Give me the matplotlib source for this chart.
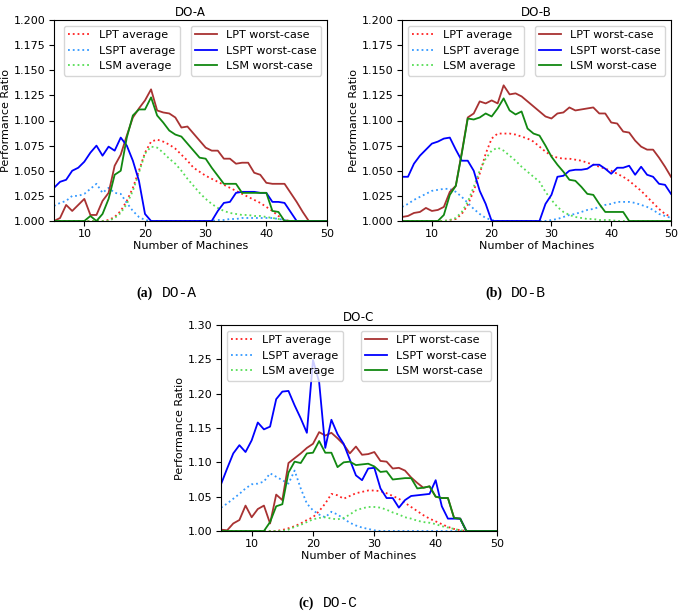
import matplotlib
matplotlib.use("Agg")
import matplotlib.pyplot as plt
import numpy as np

plt.rcParams['font.family'] = ['DejaVu Sans']
plt.rcParams['font.size'] = 8

machines = list(range(5, 51))

# ---------------- DO-A ----------------
lpt_avg_A = [1.000]*9 + [1.001, 1.004, 1.010, 1.020, 1.033, 1.050, 1.068, 1.079, 1.081, 1.079, 1.076, 1.072,
                          1.066, 1.060, 1.053, 1.049,
                          1.045, 1.042, 1.039, 1.036, 1.033, 1.030, 1.027, 1.024, 1.021, 1.018, 1.014, 1.010,
                          1.005, 1.001] + [1.000]*7
lspt_avg_A = [1.015, 1.018, 1.020, 1.025, 1.025, 1.027, 1.032, 1.037, 1.028, 1.033, 1.028, 1.027, 1.018, 1.010,
              1.004, 1.001] + [1.000]*11 + [1.001, 1.001, 1.002, 1.002, 1.003, 1.003, 1.003, 1.003, 1.003, 1.003,
                                            1.002, 1.001] + [1.000]*7
lsm_avg_A = [1.000]*10 + [1.003, 1.008, 1.017, 1.030, 1.048, 1.067, 1.074, 1.073, 1.068, 1.062, 1.057, 1.050,
                          1.042, 1.035, 1.028, 1.022, 1.017, 1.013, 1.010, 1.008, 1.007, 1.006, 1.006, 1.005,
                          1.005, 1.004, 1.003, 1.002, 1.001] + [1.000]*7
lpt_worst_A = [1.000, 1.003, 1.016, 1.010, 1.016, 1.022, 1.006, 1.006, 1.020, 1.028, 1.055, 1.066, 1.085, 1.103,
               1.112, 1.120, 1.131, 1.110, 1.108, 1.107, 1.103, 1.093, 1.094, 1.087, 1.080, 1.073, 1.070, 1.070,
               1.062, 1.062, 1.057, 1.058, 1.058, 1.048, 1.046, 1.038, 1.037, 1.037, 1.037, 1.028, 1.019,
               1.009] + [1.000]*4
lspt_worst_A = [1.033, 1.039, 1.041, 1.050, 1.053, 1.059, 1.068, 1.075, 1.065, 1.074, 1.070, 1.083, 1.075, 1.060,
                1.040, 1.007] + [1.000]*11 + [1.010, 1.018, 1.019, 1.028, 1.029, 1.029, 1.029, 1.028, 1.028,
                                              1.019, 1.019, 1.018, 1.009] + [1.000]*6
lsm_worst_A = [1.000]*6 + [1.005, 1.000, 1.007, 1.022, 1.046, 1.050, 1.083, 1.105, 1.111, 1.111, 1.123, 1.105,
                           1.098, 1.090, 1.086, 1.084, 1.077, 1.070, 1.063, 1.062, 1.053, 1.045, 1.037, 1.037,
                           1.037, 1.028, 1.028, 1.028, 1.028, 1.028, 1.010, 1.009] + [1.000]*8

# ---------------- DO-B ----------------
lpt_avg_B = [1.000]*8 + [1.001, 1.002, 1.007, 1.016, 1.030, 1.047, 1.067, 1.082, 1.087, 1.087, 1.087, 1.086,
                         1.084, 1.082, 1.079, 1.074, 1.069, 1.065, 1.063, 1.062, 1.062, 1.061, 1.060, 1.058,
                         1.056, 1.054, 1.052, 1.050, 1.047, 1.044, 1.040, 1.035, 1.030, 1.024, 1.018, 1.012,
                         1.007, 1.004]
lspt_avg_B = [1.014, 1.017, 1.021, 1.024, 1.027, 1.030, 1.031, 1.032, 1.032, 1.029, 1.024, 1.018, 1.012, 1.007,
              1.003, 1.001] + [1.000]*9 + [1.001, 1.002, 1.004, 1.006, 1.007, 1.009, 1.011, 1.012, 1.014, 1.016,
                                           1.017, 1.019, 1.019, 1.019, 1.018, 1.016, 1.014, 1.011, 1.007, 1.005,
                                           1.003]
lsm_avg_B = [1.000]*8 + [1.001, 1.003, 1.009, 1.019, 1.034, 1.050, 1.062, 1.070, 1.073, 1.070, 1.065, 1.060,
                         1.054, 1.049, 1.044, 1.039, 1.029, 1.021, 1.014, 1.009, 1.006, 1.004, 1.003, 1.002,
                         1.002, 1.001, 1.001, 1.001] + [1.000]*10
lpt_worst_B = [1.004, 1.005, 1.008, 1.009, 1.013, 1.010, 1.011, 1.014, 1.029, 1.035, 1.068, 1.103, 1.107, 1.119,
               1.117, 1.120, 1.117, 1.135, 1.126, 1.127, 1.124, 1.119, 1.114, 1.109, 1.104, 1.102, 1.107, 1.108,
               1.113, 1.110, 1.111, 1.112, 1.113, 1.107, 1.107, 1.098, 1.097, 1.089, 1.088, 1.080, 1.074, 1.071,
               1.071, 1.063, 1.054, 1.044]
lspt_worst_B = [1.044, 1.044, 1.057, 1.065, 1.071, 1.077, 1.079, 1.082, 1.083, 1.071, 1.060, 1.060, 1.050, 1.030,
                1.017, 1.000] + [1.000]*8 + [1.017, 1.026, 1.044, 1.045, 1.050, 1.051, 1.051, 1.052, 1.056, 1.056,
                                             1.052, 1.047, 1.053, 1.053, 1.055, 1.046, 1.054, 1.046, 1.044, 1.037,
                                             1.036, 1.027]
lsm_worst_B = [1.000]*7 + [1.006, 1.026, 1.035, 1.067, 1.102, 1.101, 1.103, 1.107, 1.104, 1.112, 1.122, 1.110,
                           1.106, 1.109, 1.092, 1.087, 1.085, 1.075, 1.064, 1.056, 1.049, 1.041, 1.040, 1.034,
                           1.027, 1.026, 1.017, 1.009, 1.009, 1.009, 1.009] + [1.000]*8

# ---------------- DO-C ----------------
lpt_avg_C = [1.000]*10 + [1.0015, 1.004, 1.007, 1.011, 1.016, 1.020, 1.029, 1.040, 1.054, 1.052, 1.047, 1.051,
                          1.055, 1.057, 1.059, 1.059, 1.058, 1.055, 1.051, 1.047, 1.041, 1.035, 1.029, 1.023,
                          1.018, 1.014, 1.010, 1.006, 1.003, 1.001] + [1.000]*6
lspt_avg_C = [1.034, 1.040, 1.047, 1.054, 1.062, 1.068, 1.069, 1.072, 1.084, 1.079, 1.074, 1.069, 1.088, 1.062,
              1.040, 1.030, 1.024, 1.020, 1.028, 1.024, 1.018, 1.012, 1.008, 1.005, 1.003, 1.001] + [1.000]*20
lsm_avg_C = [1.000]*11 + [1.002, 1.006, 1.009, 1.013, 1.017, 1.019, 1.020, 1.018, 1.017, 1.019, 1.024, 1.030,
                          1.033, 1.035, 1.035, 1.034, 1.031, 1.027, 1.024, 1.020, 1.018, 1.015, 1.013, 1.012,
                          1.010, 1.007, 1.005, 1.003, 1.001] + [1.000]*6
lpt_worst_C = [1.002, 1.001, 1.011, 1.016, 1.037, 1.020, 1.032, 1.037, 1.011, 1.053, 1.045, 1.099, 1.106, 1.113,
               1.121, 1.127, 1.144, 1.139, 1.143, 1.135, 1.126, 1.113, 1.123, 1.111, 1.112, 1.115, 1.102, 1.101,
               1.091, 1.092, 1.088, 1.078, 1.070, 1.063, 1.065, 1.050, 1.048, 1.048, 1.019, 1.018] + [1.000]*6
lspt_worst_C = [1.068, 1.091, 1.113, 1.125, 1.115, 1.132, 1.158, 1.148, 1.152, 1.192, 1.203, 1.204, 1.183, 1.164,
                1.143, 1.249, 1.217, 1.121, 1.162, 1.141, 1.127, 1.104, 1.081, 1.074, 1.091, 1.092, 1.062, 1.048,
                1.048, 1.034, 1.045, 1.051, 1.052, 1.053, 1.054, 1.074, 1.036, 1.018, 1.018, 1.018] + [1.000]*6
lsm_worst_C = [1.000]*8 + [1.013, 1.036, 1.039, 1.085, 1.101, 1.099, 1.113, 1.114, 1.131, 1.114, 1.114, 1.093,
                           1.100, 1.101, 1.096, 1.097, 1.098, 1.094, 1.086, 1.087, 1.075, 1.076, 1.077, 1.077,
                           1.062, 1.063, 1.065, 1.050, 1.048, 1.048, 1.019, 1.018] + [1.000]*6

avg_labels = ['LPT average', 'LSPT average', 'LSM average']
worst_labels = ['LPT worst-case', 'LSPT worst-case', 'LSM worst-case']
avg_colors = ['#ff2020', '#3399ff', '#55dd55']
worst_colors = ['#a83232', '#0000ff', '#118811']

W, H = 685, 613
fig = plt.figure(figsize=(W/100, H/100), dpi=100)


def px_axes(l, t, r, b):
    return fig.add_axes([l/W, 1 - b/H, (r - l)/W, (b - t)/H])


FS = 8


def panel(ax, title, avgs, worsts, yticks, yfmt, left_leg_anchor=None):
    ha = []
    for s, c, lab in zip(avgs, avg_colors, avg_labels):
        h, = ax.plot(machines, s, linestyle=':', color=c, lw=1.3, label=lab)
        ha.append(h)
    hw = []
    for s, c, lab in zip(worsts, worst_colors, worst_labels):
        h, = ax.plot(machines, s, linestyle='-', color=c, lw=1.3, label=lab)
        hw.append(h)
    ax.set_xlim(5, 50)
    ax.set_ylim(yticks[0], yticks[-1])
    ax.set_xticks([10, 20, 30, 40, 50])
    ax.set_yticks(yticks)
    ax.set_yticklabels([yfmt.format(v) for v in yticks])
    ax.tick_params(labelsize=FS, pad=2.5)
    ax.set_title(title, fontsize=FS + 0.5, pad=3)
    ax.set_xlabel('Number of Machines', fontsize=FS, labelpad=1)
    ax.set_ylabel('Performance Ratio', fontsize=FS, labelpad=2)
    if left_leg_anchor is None:
        l1 = ax.legend(handles=ha, loc='upper left', fontsize=FS)
    else:
        l1 = ax.legend(handles=ha, loc='upper left', fontsize=FS, bbox_to_anchor=left_leg_anchor)
    ax.add_artist(l1)
    ax.legend(handles=hw, loc='upper right', fontsize=FS)


yt_ab = [1.0 + 0.025*i for i in range(9)]
yt_c = [1.0 + 0.05*i for i in range(7)]

axA = px_axes(54, 20, 327, 221)
panel(axA, 'DO-A', [lpt_avg_A, lspt_avg_A, lsm_avg_A], [lpt_worst_A, lspt_worst_A, lsm_worst_A],
      yt_ab, '{:.3f}', left_leg_anchor=(0.016, 1.0))
axB = px_axes(402, 20, 671, 221)
panel(axB, 'DO-B', [lpt_avg_B, lspt_avg_B, lsm_avg_B], [lpt_worst_B, lspt_worst_B, lsm_worst_B],
      yt_ab, '{:.3f}')
axC = px_axes(221, 325, 497, 531)
panel(axC, 'DO-C', [lpt_avg_C, lspt_avg_C, lsm_avg_C], [lpt_worst_C, lspt_worst_C, lsm_worst_C],
      yt_c, '{:.2f}')

captions = [('(a)', 'DO-A', 153, 293), ('(b)', 'DO-B', 502, 293), ('(c)', 'DO-C', 314, 603)]
for lab, name, xr, yc in captions:
    fig.text(xr/W, 1 - yc/H, lab, ha='right', va='center', fontsize=10, fontweight='bold',
             family=['Liberation Serif', 'DejaVu Serif'])
    fig.text((xr + 9)/W, 1 - yc/H, name, ha='left', va='center', fontsize=10.5,
             family=['Liberation Mono', 'DejaVu Sans Mono'])

fig.savefig('out.png', dpi=100)
